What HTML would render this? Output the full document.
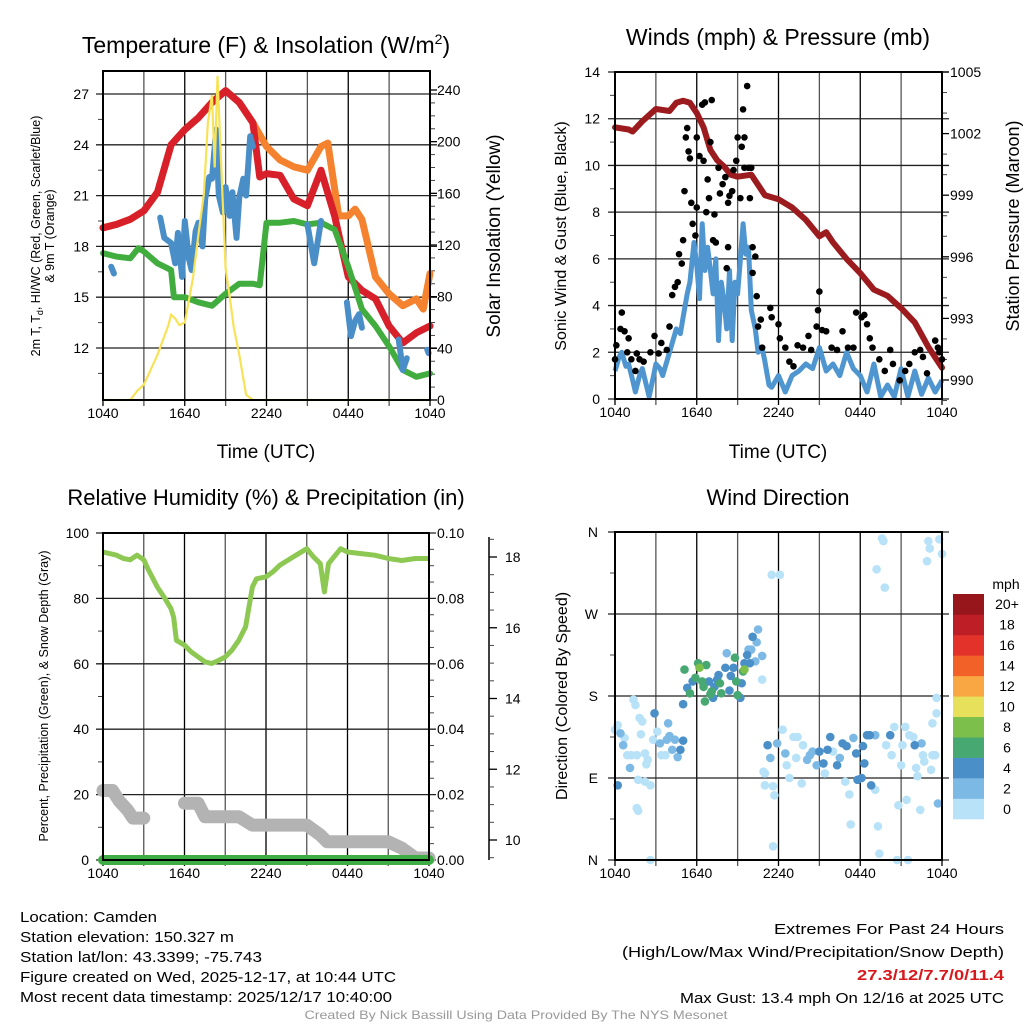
<!DOCTYPE html>
<html><head><meta charset="utf-8">
<style>
html,body{margin:0;padding:0;background:#fff;}
svg{display:block;font-family:"Liberation Sans",sans-serif;}
</style></head>
<body>
<svg id="chart" width="1024" height="1024" viewBox="0 0 1024 1024" xmlns="http://www.w3.org/2000/svg">
<rect width="1024" height="1024" fill="#fff"/>
<g id="g1"></g>
<g id="g2"></g>
<g id="g3"></g>
<g id="g4"></g>
<g id="txt" font-size="15" fill="#000">
<text x="20" y="922" textLength="137" lengthAdjust="spacingAndGlyphs">Location: Camden</text>
<text x="20" y="942" textLength="214" lengthAdjust="spacingAndGlyphs">Station elevation: 150.327 m</text>
<text x="20" y="962" textLength="242" lengthAdjust="spacingAndGlyphs">Station lat/lon: 43.3399; -75.743</text>
<text x="20" y="982" textLength="376" lengthAdjust="spacingAndGlyphs">Figure created on Wed, 2025-12-17, at 10:44 UTC</text>
<text x="20" y="1002" textLength="372" lengthAdjust="spacingAndGlyphs">Most recent data timestamp: 2025/12/17 10:40:00</text>
<text x="1004" y="934" text-anchor="end" textLength="230" lengthAdjust="spacingAndGlyphs">Extremes For Past 24 Hours</text>
<text x="1004" y="957" text-anchor="end" textLength="382" lengthAdjust="spacingAndGlyphs">(High/Low/Max Wind/Precipitation/Snow Depth)</text>
<text x="1004" y="980" text-anchor="end" fill="#d7191c" font-weight="bold" textLength="147" lengthAdjust="spacingAndGlyphs">27.3/12/7.7/0/11.4</text>
<text x="1004" y="1003" text-anchor="end" textLength="324" lengthAdjust="spacingAndGlyphs">Max Gust: 13.4 mph On 12/16 at 2025 UTC</text>
<text x="516" y="1019" text-anchor="middle" font-size="12" fill="#999" textLength="423" lengthAdjust="spacingAndGlyphs">Created By Nick Bassill Using Data Provided By The NYS Mesonet</text>
</g>
</svg>
<script>
// ---------- data ----------
const timeLabels = ["1040","1640","2240","0440","1040"];
// Panel 1
const redH = [0,1,2,3,4,5,6,7,8,9,10,11,11.5,12,13,14,15,16,17,18,19,20,21,22,23,24];
const redT = [19.1,19.3,19.6,20.1,21.2,24.0,24.9,25.6,26.5,27.2,26.5,25.3,22.1,22.3,22.2,20.8,20.4,22.5,19.8,16.2,15.4,14.9,13.3,12.3,12.9,13.3];
const orgH = [0,1,2,3,4,5,6,7,8,9,10,11,12,13,14,15,16,16.5,17.3,18,18.5,19,20,21,22,23,23.5,24];
const orgT = [19.1,19.3,19.6,20.1,21.2,24.0,24.9,25.6,26.5,27.2,26.5,25.3,23.9,23.1,22.7,22.5,23.9,24.1,19.8,19.8,20.2,19.6,16.2,15.2,14.5,14.9,14.3,16.4];
const grnH = [0,1,2,2.6,3,4,5,5.2,6,7,8,9,10,11,11.5,12,13,14,15,16,17,18,19,20,21,22,23,24];
const grnT = [17.6,17.4,17.3,17.9,17.7,17.0,16.6,15.0,15.0,14.7,14.5,15.2,15.8,15.8,15.7,19.4,19.4,19.5,19.3,19.4,19.0,16.8,14.3,13.3,12.1,10.7,10.3,10.5];
const bluH = [0.6,0.8,null,4.2,4.5,5,5.3,5.5,5.8,6,6.3,6.5,6.8,7,7.3,7.5,7.8,8,8.3,8.5,8.8,9,9.3,9.5,9.8,10,10.3,10.5,10.8,11,null,15,15.5,16,null,17.9,18.2,18.5,18.8,19,null,21.7,22,22.3,null,23.8,23.9];
const bluT = [16.8,16.4,null,19.7,18.5,18.2,17.0,18.8,16.2,19.5,17.3,16.6,18.9,19.4,18.0,20.8,22.1,22.0,24.9,21.0,20.0,21.5,19.8,21.2,18.5,20.9,22.0,21.0,24.5,23.9,null,19.3,17.0,19.5,null,14.7,12.7,13.6,14.0,13.2,null,12.5,10.7,11.4,null,11.9,11.7];
const solH = [0,2,2.5,3,4,4.8,5,5.3,5.6,6,6.6,7,7.4,7.7,8,8.2,8.4,8.6,9,9.3,9.6,10,10.5,11,24];
const solV = [0,0,7,12,35,58,66,63,58,60,94,128,159,215,236,180,251,200,102,80,56,35,4,0,0];
// Panel 2
const presH = [0,1,1.3,2,3,4,4.5,5,5.5,6,6.5,7,7.5,8,8.5,9,10,10.5,11,12,13,14,15,15.5,16,17,18,19,20,21,22,23,24];
const presV = [1002.3,1002.2,1002.1,1002.6,1003.2,1003.1,1003.5,1003.6,1003.5,1003.0,1002.3,1001.2,1000.7,1000.4,1000.0,999.9,1000.0,999.5,999.0,998.8,998.4,997.8,997.0,997.2,996.7,995.9,995.2,994.4,994.1,993.5,992.8,991.6,990.6];
const windH = [0,0.3,0.5,0.8,1,1.3,1.5,1.8,2,2.3,2.5,2.8,3,3.3,3.5,3.8,4,4.3,4.5,4.8,5,5.3,5.5,5.8,6,6.2,6.4,6.6,6.8,7,7.2,7.4,7.6,7.8,8,8.2,8.4,8.6,8.8,9,9.2,9.4,9.6,9.8,10,10.3,10.5,10.8,11,11.3,11.5,12,12.5,13,13.5,14,14.5,15,15.5,16,16.5,17,17.5,18,18.5,19,19.5,20,20.5,21,21.5,22,22.5,23,23.5,24];
const windV = [1.2,1.8,2.0,1.4,1.5,0.8,0.3,1.0,1.3,0.6,0.1,0.9,1.5,1.3,1.0,1.6,2.0,2.6,3.0,2.8,3.5,4.5,5.0,6.7,5.7,4.3,7.5,5.5,6.5,5.5,4.5,6.0,2.5,5.0,4.2,3.0,5.5,2.5,5.0,4.5,6.0,7.5,6.2,6.5,3.8,3.0,2.0,2.2,1.6,0.6,0.5,1.0,0.3,1.0,1.2,1.5,1.3,2.2,1.2,1.5,1.0,2.0,1.3,1.0,0.3,1.5,0.1,0.6,0.1,1.3,0.1,1.2,0.2,0.9,0.3,0.8];
const gustH = [0,0.1,0.5,0.4,0.7,0.9,1.0,1.2,1.6,1.8,2.1,1.5,2.6,2.9,3.2,3.4,3.8,4.0,4.2,4.4,4.6,4.7,4.9,5.0,5.1,5.2,5.3,5.4,5.5,5.6,5.7,5.9,6.0,6.0,6.2,6.4,6.5,6.6,6.7,6.8,6.9,7.1,7.0,7.2,7.4,7.3,7.6,7.7,7.9,8.1,8.2,8.3,8.3,8.4,8.6,8.7,8.9,9.0,9.2,9.3,9.4,9.5,9.7,9.5,9.8,9.9,10.0,10.1,10.3,10.1,10.4,10.5,10.7,10.8,11.4,11.5,12.0,12.1,12.5,12.8,13.1,13.4,13.8,14.2,14.4,14.8,14.9,15.0,15.2,15.5,15.9,16.3,16.7,17.1,17.5,17.7,18.1,18.3,18.5,18.7,18.9,19.4,19.8,20.2,20.4,20.9,21.3,21.6,22.0,22.4,22.6,22.9,23.5,23.7,23.8,24.0];
const gustV = [1.7,2.3,3.7,3.0,2.9,2.0,2.6,1.7,1.95,1.7,1.6,1.2,2.0,2.7,1.95,2.4,2.1,3.1,4.45,4.8,5.0,6.2,5.8,6.8,8.9,11.2,11.6,10.6,10.3,8.4,7.5,7.0,8.2,11.2,10.4,12.6,10.2,12.7,8.0,9.4,8.6,12.8,11.0,6.8,6.7,7.9,9.9,8.8,9.2,9.5,5.6,6.5,8.4,8.7,8.9,9.8,10.2,11.2,8.6,10.8,12.4,11.2,13.4,9.9,9.9,8.6,9.9,6.5,6.1,5.4,4.4,3.1,3.4,2.2,3.9,3.5,3.2,2.6,2.2,1.6,1.4,2.3,2.2,2.7,2.1,3.1,3.8,4.6,2.95,2.9,2.2,2.1,2.9,2.2,2.2,3.7,3.5,3.6,3.2,2.6,2.2,1.7,1.2,2.1,1.5,0.8,1.2,1.5,2.0,2.1,1.8,1.1,2.5,2.2,2.0,1.7];
// Panel 3
const rhH = [0,1,1.5,2,2.5,3,3.3,4,4.5,5,5.2,5.4,6,6.5,7,7.5,8,8.5,9,9.5,10,10.5,11,11.3,12,12.5,13,14,15,15.5,16,16.3,16.6,17,17.5,18,19,20,21,22,23,24];
const rhV = [94.2,93.2,92.2,91.8,93.2,91.8,89.1,83.5,80.4,76.9,74.3,67.2,65.7,63.6,62.1,60.6,60.1,61.0,62.1,64.2,67.2,71.3,83.5,86.0,86.6,88.1,90.1,92.7,95.2,92.7,90.6,82.0,90.6,92.7,95.2,94.2,93.7,93.2,92.2,91.6,92.2,92.2];
const precipH = [0,24];
const precipV = [0,0];
const snowH = [0,0.7,1.2,1.8,2.2,3.0,null,6,7,7.5,10,11,15,16,16.5,21,22,23,24];
const snowV = [11.4,11.4,11.1,10.85,10.62,10.62,null,11.04,11.04,10.66,10.66,10.42,10.42,10.14,9.95,9.95,9.77,9.49,9.49];
// Panel 4
const dirH = [0,0.2,0.4,0.6,0.7,0.9,1.1,1.2,1.35,1.5,1.6,1.8,2.0,1.7,2.2,2.6,1.6,1.7,2.6,0.2,1.9,2.2,2.3,2.4,2.9,2.8,3.1,3.3,3.4,3.7,3.8,3.9,4.0,4.2,4.4,4.6,4.8,5.0,5.0,5.1,5.3,5.5,5.7,5.9,6.1,6.2,6.4,6.5,6.6,6.7,6.9,7.0,7.1,7.2,7.3,7.5,7.6,7.7,7.8,8.1,8.2,8.4,8.5,8.7,8.8,8.9,9.0,9.2,9.3,9.4,9.5,9.7,9.9,10.0,10.1,10.3,10.4,10.5,10.8,10.8,9.8,9.5,10.9,11.0,11.2,11.4,11.5,11.0,11.6,11.7,11.6,11.9,12.1,12.3,12.5,12.6,12.8,13.1,13.3,13.4,13.7,13.8,14.1,14.3,14.5,14.8,15.0,15.3,15.4,15.6,15.8,16.0,16.3,16.5,16.7,16.9,17.0,17.2,17.3,17.5,17.7,17.8,18.1,18.2,18.3,18.5,18.7,18.8,19.1,19.1,19.2,19.3,19.4,19.6,19.7,19.8,19.9,20.2,20.3,20.5,20.7,20.8,21.0,21.1,21.3,21.4,21.5,21.6,21.9,22.0,22.1,22.2,22.4,22.5,22.6,22.7,22.9,23.0,23.1,23.2,23.3,23.3,23.5,23.6,23.7,23.6,23.8,24.0,22.7];
const dirV = [143,148,139,126,134,115,101,115,176,170,115,156,152,88,86,82,57,54,0,82,138,117,105,110,161,132,141,128,115,115,132,150,136,121,132,113,121,131,171,209,189,183,196,200,216,211,196,190,174,214,196,182,185,178,190,198,203,194,183,211,227,186,202,211,222,196,181,178,194,207,209,225,216,231,245,218,239,253,224,198,231,216,97,95,126,112,313,82,81,71,15,128,313,143,117,104,90,135,112,135,84,126,110,115,119,104,119,106,95,121,135,119,104,112,128,86,125,72,39,134,117,88,90,125,106,137,137,82,137,77,319,37,7,353,350,299,126,137,115,146,0,60,104,126,146,66,0,137,135,126,101,92,55,128,115,108,328,350,342,99,115,150,115,161,62,178,352,336,0];
const dirS = [0,0,2,2,0,0,2,0,0,0,0,0,0,0,0,0,0,0,0,4,0,0,0,0,4,0,0,2,0,0,2,2,2,2,2,2,4,4,4,6,4,6,4,6,6,8,6,6,6,6,4,6,6,4,4,4,4,6,6,4,2,4,4,4,6,6,6,4,4,6,8,4,4,2,4,2,2,2,2,0,2,4,0,0,4,2,0,0,0,0,0,2,0,0,2,0,0,0,0,0,0,0,2,2,2,2,4,4,0,4,4,0,4,2,4,0,4,0,0,2,4,4,4,4,4,4,4,4,2,0,0,0,0,0,0,0,0,4,0,0,0,0,0,0,0,0,0,0,0,4,0,0,0,2,0,0,0,0,0,0,0,0,0,0,2,0,0,0];
const cbLabels = ["0","2","4","6","8","10","12","14","16","18","20+"];
const cbColors = ["#b8e2f7","#7db9e5","#4a8fc7","#48a872","#7cc04b","#e6e05a","#f8a742","#f26228","#e2322a","#be1e26","#96161b"];

// ---------- helpers ----------
const NS="http://www.w3.org/2000/svg";
function mk(parent,tag,attrs){const e=document.createElementNS(NS,tag);for(const k in attrs)e.setAttribute(k,attrs[k]);parent.appendChild(e);return e;}
function txt(parent,x,y,s,size,anchor,extra){const t=mk(parent,"text",Object.assign({x:x,y:y,"font-size":size,"text-anchor":anchor||"start",fill:"#000"},extra||{}));t.textContent=s;return t;}
function linScale(d0,d1,r0,r1){return v=>r0+(v-d0)/(d1-d0)*(r1-r0);}
function pathD(xs,ys,sx,sy){let d="",pen=false;for(let i=0;i<xs.length;i++){if(xs[i]===null||ys[i]===null){pen=false;continue;}d+=(pen?"L":"M")+sx(xs[i]).toFixed(1)+","+sy(ys[i]).toFixed(1);pen=true;}return d;}
function frame(g,x0,x1,y0,y1,sx){
  for(let h=0;h<=24;h+=3){const X=sx(h);
    const l=mk(g,"line",{x1:X,x2:X,y1:y0,y2:y1+6,stroke:(h%6===0?"#000":"#555"),"stroke-width":1.3});
    
    
  }
  for(let i=0;i<5;i++){const t=txt(g,sx(i*6),y1+18,timeLabels[i],14,"middle");
    
    }
}
function hgrid(g,x0,x1,y,lab,lx){const l=mk(g,"line",{x1:x0-7,x2:x1+7,y1:y,y2:y,stroke:"#222","stroke-width":1.3});
  
  
  if(lab!==null){const t=txt(g,lx,y+5,lab,14,"end");
  
  }}
function border(g,x0,x1,y0,y1){const r=mk(g,"rect",{x:x0,y:y0,width:x1-x0,height:y1-y0,fill:"none",stroke:"#000","stroke-width":2});
  
  }
function minor(g,x,ys,dir){ys.forEach(y=>{const l=mk(g,"line",{x1:x,x2:x+dir*5,y1:y,y2:y,stroke:"#444","stroke-width":1});
  
  });}

// ---------- Panel 1 ----------
(function(){
  const g=document.getElementById("g1");
  const X0=103,X1=430,Y0=71,Y1=400;
  const sx=linScale(0,24,X0,X1), sy=linScale(12,27,348,94), ss=linScale(0,240,400,90);
  frame(g,X0,X1,Y0,Y1,sx);
  for(let t=12;t<=27;t+=3)hgrid(g,X0,X1,sy(t),String(t),89);
  const mt=[];for(let t=10.5;t<28;t+=3)mt.push(sy(t));minor(g,X0,mt,-1);
  for(let v=0;v<=240;v+=40){const y=ss(v);const l=mk(g,"line",{x1:X1,x2:X1+7,y1:y,y2:y,stroke:"#000","stroke-width":1.3});
    
    const t=txt(g,437,y+5,String(v),14,"start");}
  const ms=[];for(let v=10;v<250;v+=10)if(v%40)ms.push(ss(v));minor(g,X1,ms,1);
  const series=[[orgH,orgT,"#f5822e",7,"orange-9m-temp"],[redH,redT,"#d7202a",7,"red-2m-temp"],[grnH,grnT,"#41ad3e",6,"green-dewpoint"],[bluH,bluT,"#4a8ec8",6,"blue-windchill"]];
  series.forEach(s=>{const p=mk(g,"path",{d:pathD(s[0],s[1],sx,sy),fill:"none",stroke:s[2],"stroke-width":s[3],"stroke-linejoin":"round","stroke-linecap":"round"});
    });
  const ps=mk(g,"path",{d:pathD(solH,solV,sx,ss),fill:"none",stroke:"#f8e257","stroke-width":2.2});
  
  border(g,X0,X1,Y0,Y1);
  const t1=txt(g,266,53,"Temperature (F) & Insolation (W/m",23,"middle");
  const ts=mk(t1,"tspan",{dy:-9,"font-size":14});ts.textContent="2";const ts2=mk(t1,"tspan",{dy:9});ts2.textContent=")";
  const xl=txt(g,266,458,"Time (UTC)",19,"middle");
  const yl=mk(g,"text",{transform:"translate(40,236) rotate(-90)","font-size":12.5,"text-anchor":"middle"});yl.textContent="2m T, T";
  
  const sub=mk(yl,"tspan",{dy:3,"font-size":9});sub.textContent="d";const r=mk(yl,"tspan",{dy:-3});r.textContent=", HI/WC (Red, Green, Scarlet/Blue)";
  const yl2=mk(g,"text",{transform:"translate(54,236) rotate(-90)","font-size":12.5,"text-anchor":"middle"});yl2.textContent="& 9m T (Orange)";
  
  const yr=mk(g,"text",{transform:"translate(500,236) rotate(-90)","font-size":19,"text-anchor":"middle"});yr.textContent="Solar Insolation (Yellow)";
  
})();

// ---------- Panel 2 ----------
(function(){
  const g=document.getElementById("g2");
  const X0=615,X1=942,Y0=72,Y1=399;
  const sx=linScale(0,24,X0,X1), sy=linScale(0,14,399,72), sp=linScale(990,1005,380,72);
  frame(g,X0,X1,Y0,Y1,sx);
  for(let v=0;v<=14;v+=2)hgrid(g,X0,X1,sy(v),String(v),600);
  const mt=[];for(let v=1;v<14;v+=2)mt.push(sy(v));minor(g,X0,mt,-1);
  for(let p=990;p<=1005;p+=3){const y=sp(p);const l=mk(g,"line",{x1:X1,x2:X1+7,y1:y,y2:y,stroke:"#000","stroke-width":1.3});
    
    const t=txt(g,950,y+5,String(p),14,"start");}
  const mp=[];for(let p=989;p<1006;p+=1)if((p-990)%3)mp.push(sp(p));minor(g,X1,mp,1);
  const pw=mk(g,"path",{d:pathD(windH,windV,sx,sy),fill:"none",stroke:"#4f95cf","stroke-width":5,"stroke-linejoin":"round"});
  
  const pp=mk(g,"path",{d:pathD(presH,presV,sx,sp),fill:"none",stroke:"#9b1b1e","stroke-width":6,"stroke-linejoin":"round","stroke-linecap":"round"});
  
  for(let i=0;i<gustH.length;i++){const c=mk(g,"circle",{cx:sx(gustH[i]),cy:sy(gustV[i]),r:3.3,fill:"#000"});
    
    }
  border(g,X0,X1,Y0,Y1);
  const t1=txt(g,778,45,"Winds (mph) & Pressure (mb)",23,"middle");
  const xl=txt(g,778,458,"Time (UTC)",19,"middle");
  const yl=mk(g,"text",{transform:"translate(566,236) rotate(-90)","font-size":16,"text-anchor":"middle"});yl.textContent="Sonic Wind & Gust (Blue, Black)";
  
  const yr=mk(g,"text",{transform:"translate(1019,226) rotate(-90)","font-size":18,"text-anchor":"middle"});yr.textContent="Station Pressure (Maroon)";
  
})();

// ---------- Panel 3 ----------
(function(){
  const g=document.getElementById("g3");
  const X0=103,X1=429,Y0=533,Y1=860;
  const sx=linScale(0,24,X0,X1), sy=linScale(0,100,860,533), sn=linScale(10,18,840,557);
  frame(g,X0,X1,Y0,Y1,sx);
  for(let v=0;v<=100;v+=20)hgrid(g,X0,X1,sy(v),String(v),89);
  const mt=[];for(let v=10;v<100;v+=20)mt.push(sy(v));minor(g,X0,mt,-1);
  for(let v=0;v<=100;v+=20){const y=sy(v);const t=txt(g,437,y+5,(v/1000).toFixed(2),14,"start");
    }
  const mp=[];for(let v=5;v<=95;v+=5)if(v%20)mp.push(sy(v));minor(g,X1,mp,1);
  const ax=mk(g,"line",{x1:489,x2:489,y1:537,y2:860,stroke:"#000","stroke-width":1.5});
  
  for(let s=10;s<=18;s+=2){const y=sn(s);const l=mk(g,"line",{x1:489,x2:497,y1:y,y2:y,stroke:"#000","stroke-width":1.3});
    
    const t=txt(g,505,y+5,String(s),14,"start");}
  const ms=[];for(let s=9.5;s<18.6;s+=0.5)if(s%2)ms.push(sn(s));minor(g,489,ms,1);
  const pg=mk(g,"path",{d:pathD(snowH,snowV,sx,sn),fill:"none",stroke:"#b3b3b3","stroke-width":13,"stroke-linejoin":"round","stroke-linecap":"round"});
  
  const pr=mk(g,"path",{d:pathD(precipH,precipV,sx,v=>sy(v*1000)),fill:"none",stroke:"#3fad46","stroke-width":10,"stroke-linecap":"round"});
  
  const ph=mk(g,"path",{d:pathD(rhH,rhV,sx,sy),fill:"none",stroke:"#8dc952","stroke-width":5,"stroke-linejoin":"round"});
  
  border(g,X0,X1,Y0,Y1);
  const t1=txt(g,266,505,"Relative Humidity (%) & Precipitation (in)",22,"middle");
  const yl=mk(g,"text",{transform:"translate(48,696) rotate(-90)","font-size":12.5,"text-anchor":"middle"});yl.textContent="Percent, Precipitation (Green), & Snow Depth (Gray)";
  
})();

// ---------- Panel 4 ----------
(function(){
  const g=document.getElementById("g4");
  const X0=615,X1=942,Y0=532,Y1=860;
  const sx=linScale(0,24,X0,X1), sy=linScale(0,360,860,532);
  frame(g,X0,X1,Y0,Y1,sx);
  const dl=["N","E","S","W","N"];
  for(let i=0;i<5;i++)hgrid(g,X0,X1,sy(i*90),dl[i],598);
  const mt=[];for(let d=45;d<360;d+=90)mt.push(sy(d));minor(g,X0,mt,-1);
  const order=[...dirS.keys()].sort((a,b)=>dirS[a]-dirS[b]);
  order.forEach(i=>{const c=mk(g,"circle",{cx:sx(dirH[i]),cy:sy(dirV[i]),r:4.3,fill:cbColors[Math.min(10,Math.floor(dirS[i]/2))]});
    
    });
  border(g,X0,X1,Y0,Y1);
  const t1=txt(g,778,505,"Wind Direction",22,"middle");
  const yl=mk(g,"text",{transform:"translate(567,696) rotate(-90)","font-size":16,"text-anchor":"middle"});yl.textContent="Direction (Colored By Speed)";
  
  const cb=mk(g,"g",{});
  const ct=txt(cb,1006,589,"mph",14,"middle");
  const bh=225/11;
  for(let i=0;i<11;i++){const y=594+(10-i)*bh;
    const r=mk(cb,"rect",{x:953,y:y,width:31,height:bh+0.3,fill:cbColors[i]});
    
    const t=txt(cb,1007,y+bh/2+5,cbLabels[i],14,"middle");}
})();
</script>
</body></html>
